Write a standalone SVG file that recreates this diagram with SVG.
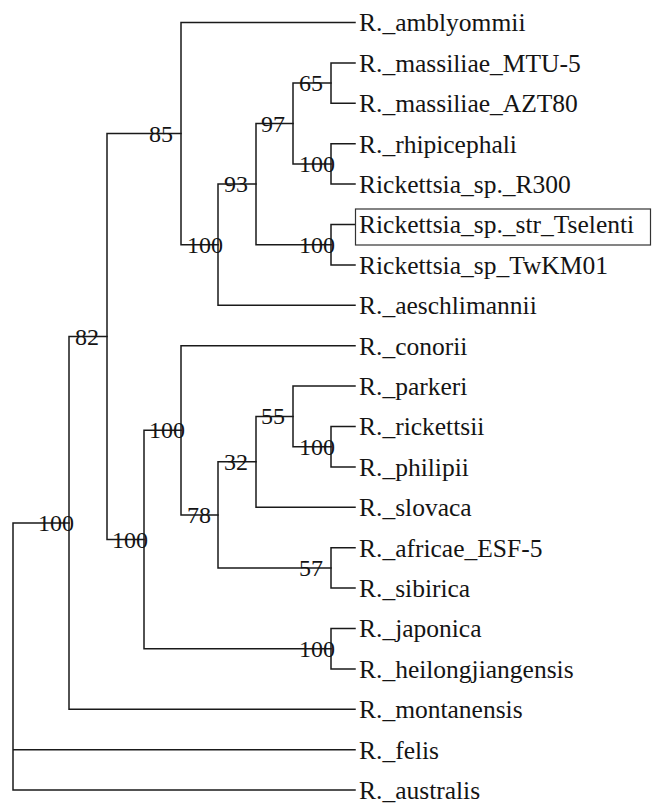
<svg xmlns="http://www.w3.org/2000/svg" width="652" height="804" viewBox="0 0 652 804">
<style>
.e{fill:none;stroke:#1a1a1a;stroke-width:1.5;stroke-linecap:square}
.box{fill:none;stroke:#333;stroke-width:1.2}
.lf{font-family:"Liberation Serif","Times New Roman",serif;font-size:25.5px;fill:#141414}
.bs{font-family:"Liberation Serif","Times New Roman",serif;font-size:24px;fill:#141414}
</style>
<rect width="652" height="804" fill="#fff"/>
<g id="connectors">
<path class="e" d="M13 522.9V790.1H355M13 749.7H355M13 522.9H69"/>
<path class="e" d="M69 336.55V709.3H355M69 336.55H107"/>
<path class="e" d="M107 133.6V539.5H144M107 133.6H181"/>
<path class="e" d="M181 22.5V244.7H218M181 22.5H355"/>
<path class="e" d="M218 184.1V305.3H355M218 184.1H256"/>
<path class="e" d="M256 123.5V244.7H331M256 123.5H293"/>
<path class="e" d="M293 83.1V163.9H331M293 83.1H331"/>
<path class="e" d="M331 62.9V103.3H355M331 62.9H355"/>
<path class="e" d="M331 143.7V184.1H355M331 143.7H355"/>
<path class="e" d="M331 224.5V264.9H355M331 224.5H355"/>
<path class="e" d="M144 430.3V648.7H331M144 430.3H181"/>
<path class="e" d="M181 345.7V514.9H218M181 345.7H355"/>
<path class="e" d="M218 461.85V567.9H331M218 461.85H256"/>
<path class="e" d="M256 416.4V507.3H355M256 416.4H293"/>
<path class="e" d="M293 386.1V446.7H331M293 386.1H355"/>
<path class="e" d="M331 426.5V466.9H355M331 426.5H355"/>
<path class="e" d="M331 547.7V588.1H355M331 547.7H355"/>
<path class="e" d="M331 628.5V668.9H355M331 628.5H355"/>
</g>
<g id="leaf-amblyommii"><text class="lf" x="359" y="31.3">R._amblyommii</text></g>
<g id="leaf-massiliae-mtu5"><text class="lf" x="359" y="71.7">R._massiliae_MTU-5</text></g>
<g id="leaf-massiliae-azt80"><text class="lf" x="359" y="112.1">R._massiliae_AZT80</text></g>
<g id="leaf-rhipicephali"><text class="lf" x="359" y="152.5">R._rhipicephali</text></g>
<g id="leaf-r300"><text class="lf" x="359" y="192.9">Rickettsia_sp._R300</text></g>
<g id="leaf-tselenti"><rect class="box" x="355.5" y="209" width="295" height="36"/><text class="lf" x="359" y="233.3">Rickettsia_sp._str_Tselenti</text></g>
<g id="leaf-twkm01"><text class="lf" x="359" y="273.7">Rickettsia_sp_TwKM01</text></g>
<g id="leaf-aeschlimannii"><text class="lf" x="359" y="314.1">R._aeschlimannii</text></g>
<g id="leaf-conorii"><text class="lf" x="359" y="354.5">R._conorii</text></g>
<g id="leaf-parkeri"><text class="lf" x="359" y="394.9">R._parkeri</text></g>
<g id="leaf-rickettsii"><text class="lf" x="359" y="435.3">R._rickettsii</text></g>
<g id="leaf-philipii"><text class="lf" x="359" y="475.7">R._philipii</text></g>
<g id="leaf-slovaca"><text class="lf" x="359" y="516.1">R._slovaca</text></g>
<g id="leaf-africae"><text class="lf" x="359" y="556.5">R._africae_ESF-5</text></g>
<g id="leaf-sibirica"><text class="lf" x="359" y="596.9">R._sibirica</text></g>
<g id="leaf-japonica"><text class="lf" x="359" y="637.3">R._japonica</text></g>
<g id="leaf-heilongjiangensis"><text class="lf" x="359" y="677.7">R._heilongjiangensis</text></g>
<g id="leaf-montanensis"><text class="lf" x="359" y="718.1">R._montanensis</text></g>
<g id="leaf-felis"><text class="lf" x="359" y="758.5">R._felis</text></g>
<g id="leaf-australis"><text class="lf" x="359" y="798.9">R._australis</text></g>
<g id="node-85"><text class="bs" x="149" y="141.6">85</text></g>
<g id="node-100a"><text class="bs" x="187" y="252.7">100</text></g>
<g id="node-93"><text class="bs" x="224" y="192.1">93</text></g>
<g id="node-97"><text class="bs" x="261" y="131.5">97</text></g>
<g id="node-65"><text class="bs" x="299" y="91.1">65</text></g>
<g id="node-100-rhip"><text class="bs" x="299" y="171.9">100</text></g>
<g id="node-100-tsel"><text class="bs" x="299" y="252.7">100</text></g>
<g id="node-82"><text class="bs" x="75" y="344.55">82</text></g>
<g id="node-100-d"><text class="bs" x="38" y="530.9">100</text></g>
<g id="node-100-c"><text class="bs" x="112" y="547.5">100</text></g>
<g id="node-100-b"><text class="bs" x="149" y="438.3">100</text></g>
<g id="node-78"><text class="bs" x="187" y="522.9">78</text></g>
<g id="node-32"><text class="bs" x="224" y="469.85">32</text></g>
<g id="node-55"><text class="bs" x="261" y="424.4">55</text></g>
<g id="node-100-rick"><text class="bs" x="299" y="454.7">100</text></g>
<g id="node-57"><text class="bs" x="299" y="575.9">57</text></g>
<g id="node-100-jap"><text class="bs" x="299" y="656.7">100</text></g>
</svg>
